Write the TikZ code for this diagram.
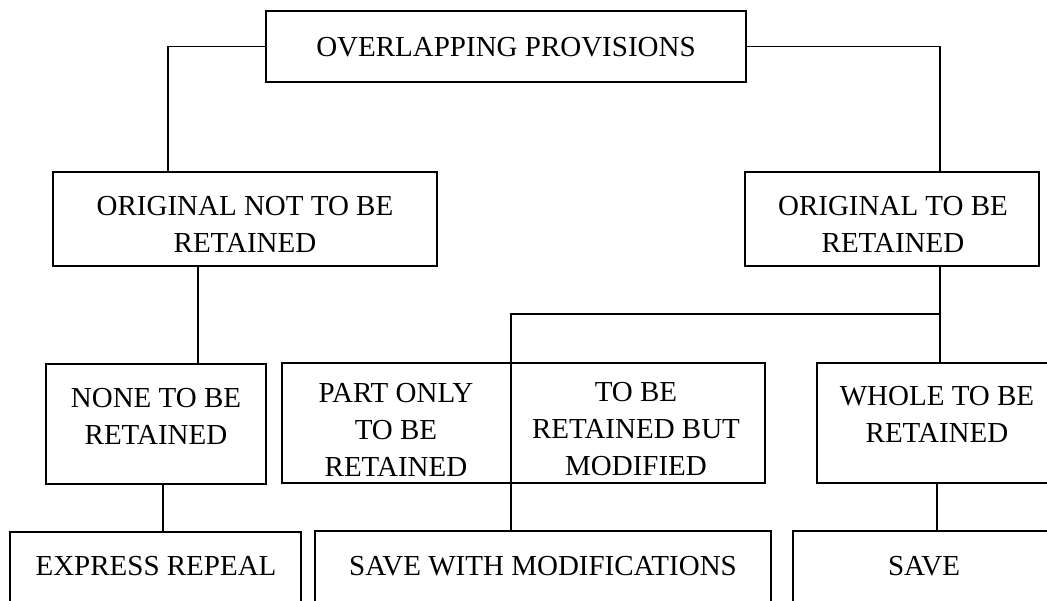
\documentclass[tikz,border=0pt]{standalone}
\usepackage{fontspec}
\setmainfont{Liberation Serif}
\usetikzlibrary{calc}
\tikzset{
  box/.style={draw, line width=1.8pt, inner sep=0pt, outer sep=0pt, anchor=north west},
  lbl/.style={font=\fontsize{29}{37}\selectfont, align=center, inner sep=0pt},
  wire/.style={line width=1.3pt},
}
\begin{document}
\begin{tikzpicture}[x=1pt, y=-1pt]
  \path[use as bounding box, fill=white] (0,0) rectangle (1047,601);
  \clip (0,0) rectangle (1047,601);

  % boxes
  \node[box, minimum width=480pt, minimum height=71pt] (top) at (266,11) {};
  \node[box, minimum width=384pt, minimum height=94pt] (orignot) at (53,172) {};
  \node[box, minimum width=294pt, minimum height=94pt] (origto) at (745,172) {};
  \node[box, minimum width=220pt, minimum height=120pt] (none) at (46,364) {};
  \node[box, minimum width=229pt, minimum height=120pt] (part) at (282,363) {};
  \node[box, minimum width=254pt, minimum height=120pt] (tobe) at (511,363) {};
  \node[box, minimum width=260pt, minimum height=120pt] (whole) at (817,363) {};
  \node[box, minimum width=291pt, minimum height=100pt] (express) at (10,532) {};
  \node[box, minimum width=456pt, minimum height=100pt] (savewith) at (315,531) {};
  \node[box, minimum width=280pt, minimum height=100pt] (save) at (793,531) {};

  % texts
  \node[lbl] (topT) at (506,47) {OVERLAPPING PROVISIONS};
  \node[lbl] (orignotT) at (245,224.5) {ORIGINAL NOT TO BE\\RETAINED};
  \node[lbl] (origtoT) at (893,224.5) {ORIGINAL TO BE\\RETAINED};
  \node[lbl] (noneT) at (156,416) {NONE TO BE\\RETAINED};
  \node[lbl] (partT) at (396,429.5) {PART ONLY\\TO BE\\RETAINED};
  \node[lbl] (tobeT) at (636,429.5) {TO BE\\RETAINED BUT\\MODIFIED};
  \node[lbl] (wholeT) at (937,414) {WHOLE TO BE\\RETAINED};
  \node[lbl] (expressT) at (156,566) {EXPRESS REPEAL};
  \node[lbl] (savewithT) at (543,566) {SAVE WITH MODIFICATIONS};
  \node[lbl] (saveT) at (924,566) {SAVE};

  % connectors
  \draw[wire] (top.west) -| ([xshift=115pt]orignot.north west);
  \draw[wire] (top.east) -| ([xshift=195pt]origto.north west);

  \coordinate (c1) at ([xshift=145pt]orignot.south west);
  \draw[wire] (c1) -- (c1 |- none.north);

  \coordinate (c2) at ([xshift=195pt]origto.south west);
  \draw[wire] (c2) -- (c2 |- whole.north);
  \draw[wire] ([yshift=-48pt]c2) -| (tobe.north west);

  \draw[wire] (tobe.south west) -- (tobe.south west |- savewith.north);

  \coordinate (c3) at ([xshift=117pt]none.south west);
  \draw[wire] (c3) -- (c3 |- express.north);

  \coordinate (c4) at ([xshift=120pt]whole.south west);
  \draw[wire] (c4) -- (c4 |- save.north);
\end{tikzpicture}
\end{document}
